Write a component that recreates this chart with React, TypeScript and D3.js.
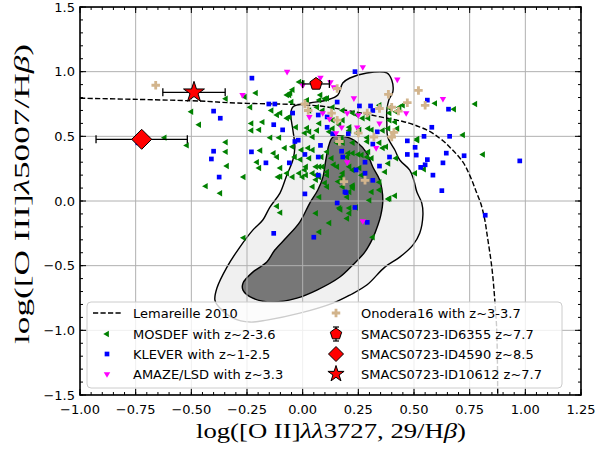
import React from 'react';
import * as d3 from 'd3';

// --- data: [log([OII]/Hb), log([OIII]/Hb)] ---
const mosdef: [number, number][] = [
  [-0.21, 0.835], [-0.345, 0.79], [-0.5, 0.69], [-0.465, 0.59], [-0.62, 0.49], [-0.52, 0.43],
  [-0.345, 0.455], [-0.345, 0.38], [-0.34, 0.27], [-0.435, 0.115], [-0.37, 0.06], [-0.265, 0.185],
  [-0.26, 0.805], [-0.235, 0.725], [-0.23, 0.6], [-0.195, 0.55], [-0.23, 0.545], [-0.19, 0.39],
  [-0.205, 0.3], [-0.195, 0.255], [-0.145, 0.49], [-0.105, 0.49], [-0.13, 0.37], [-0.1, 0.255],
  [-0.11, 0.185], [-0.07, 0.215], [-0.115, 0.34], [-0.115, -0.04], [-0.1, -0.09], [-0.06, 0.82],
  [-0.045, 0.86], [-0.14, 0.7], [-0.1, 0.68], [-0.06, 0.65], [-0.03, 0.57], [0.02, 0.565],
  [0.045, 0.495], [0.01, 0.525], [-0.045, 0.42], [-0.005, 0.395], [0.045, 0.395], [-0.01, 0.32],
  [0.03, 0.33], [0.11, 0.38], [0.09, 0.265], [0.01, 0.24], [0.045, 0.215], [0.075, 0.185],
  [0.11, 0.225], [0.155, 0.265], [0.175, 0.185], [0.21, 0.265], [0.225, 0.11], [0.2, 0.03],
  [0.165, -0.055], [0.21, -0.055], [0.075, 0.03], [0.045, 0.11], [0.11, 0.11], [0.075, 0.78],
  [0.08, 0.82], [0.11, 0.795], [0.065, 0.725], [0.03, 0.7], [0.09, 0.7], [0.135, 0.725],
  [0.18, 0.7], [0.225, 0.68], [0.18, 0.625], [0.21, 0.57], [0.245, 0.525], [0.075, 0.6],
  [0.065, 0.545], [0.12, 0.535], [0.155, 0.45], [0.18, 0.45], [0.225, 0.37], [0.2, 0.34],
  [0.775, 0.75], [0.595, 0.755], [0.68, 0.71], [0.72, 0.51], [0.81, 0.36], [0.545, 0.245],
  [0.505, 0.215], [0.415, 0.04], [0.385, 0.015], [0.515, 0.47], [0.39, 0.68], [0.42, 0.69],
  [0.435, 0.725], [0.345, 0.74], [0.425, 0.56], [0.385, 0.56], [0.39, 0.625], [0.31, 0.55],
  [0.255, 0.55], [0.295, 0.56], [0.345, 0.45], [0.375, 0.42], [0.29, 0.46], [0.265, 0.355],
  [0.29, 0.34], [0.31, 0.33], [0.295, 0.38], [0.385, 0.29], [0.37, 0.225], [0.345, 0.145],
  [0.31, 0.07], [0.345, 0.085], [0.255, 0.255], [0.225, 0.12], [0.205, 0.37], [0.175, 0.485],
  [0.085, 0.34], [0.075, 0.265], [0.06, 0.165], [0.16, 0.15], [0.18, 0.11], [0.17, -0.065],
  [0.3, 0.005], [0.21, -0.095], [0.06, -0.095], [0.02, 0.78], [0.27, 0.64], [0.135, 0.625],
  [0.165, 0.59], [0.21, 0.545], [0.135, 0.56], [0.03, 0.535], [0.015, 0.265], [0.06, 0.265],
  [0.015, 0.2], [0.06, 0.2], [0.11, 0.2], [0.18, 0.215], [0.18, 0.16], [0.225, 0.1],
  [0.21, 0.07], [0.1, 0.14], [0.225, 0.24], [0.265, 0.2], [0.39, 0.02], [0.24, -0.05],
  [0.2, -0.135], [0.12, -0.17], [0.075, -0.24], [0.315, -0.28], [-0.015, 0.215], [-0.1, 0.19],
  [-0.045, 0.185], [0.0, 0.185], [-0.265, -0.285], [-0.18, 0.61], [-0.115, 0.665], [-0.07, 0.64],
  [-0.05, 0.765], [0.0, 0.91], [-0.055, 0.835], [-0.08, 0.41], [-0.035, 0.34], [0.1, 0.79],
  [0.245, 0.665], [0.295, 0.64], [0.39, 0.72], [0.45, 0.74], [0.415, 0.61], [0.36, 0.545],
  [0.515, 0.48], [0.29, 0.49], [0.225, 0.45], [0.36, 0.41], [0.025, 0.41], [0.25, 0.36],
  [0.42, 0.33], [0.13, 0.33], [0.14, 0.28], [-0.015, 0.92], [-0.07, 0.82],
];

const klever: [number, number][] = [
  [-0.228, 0.95], [-0.152, 0.75], [-0.125, 0.75], [-0.4, 0.695], [-0.37, 0.64], [-0.13, 0.59],
  [-0.09, 0.55], [-0.74, 0.45], [-0.4, 0.385], [-0.41, 0.325], [-0.23, 0.38], [-0.165, 0.295],
  [-0.375, 0.185], [-0.06, 0.295], [-0.045, 0.68], [0.01, 0.055], [-0.035, 0.46], [-0.02, 0.47],
  [0.01, 0.36], [0.07, 0.34], [0.08, 0.43], [0.07, 0.665], [0.11, 0.65], [0.155, 0.765],
  [0.155, -0.015], [0.18, 0.34], [0.19, 0.07], [0.11, 0.57], [0.235, 1.0], [0.235, -0.05],
  [0.24, 0.24], [0.135, 0.52], [0.56, 0.78], [0.655, 0.71], [0.58, 0.57], [0.66, 0.5],
  [0.545, 0.5], [0.47, 0.465], [0.505, 0.415], [0.47, 0.36], [0.51, 0.355], [0.645, 0.37],
  [0.725, 0.35], [0.56, 0.32], [0.55, 0.28], [0.53, 0.26], [0.63, 0.295], [0.585, 0.2],
  [0.625, 0.08], [0.82, -0.11], [0.975, 0.31], [0.335, 0.535], [0.315, 0.44], [0.345, 0.27],
  [0.315, 0.7], [0.305, 0.735], [0.255, 0.735], [0.175, 0.385], [0.28, 0.3], [0.28, 0.215],
  [0.315, 0.16], [0.195, 0.065], [0.39, 0.34], [0.205, 0.52], [0.07, 0.2], [0.29, -0.165],
  [0.05, -0.28], [-0.13, -0.25],
];

const amaze: [number, number][] = [
  [-0.07, 1.0], [-0.27, 0.82], [0.0, 0.895], [0.08, 0.955], [0.125, 0.92], [0.03, 0.65],
  [0.09, 0.68], [0.12, 0.635], [0.175, 0.57], [0.2, 0.68], [0.23, 0.795], [0.2, 0.3],
  [0.27, 1.035], [0.425, 0.94], [0.63, 0.79], [0.14, 0.88], [0.25, 0.665], [0.245, 0.57],
  [0.345, 0.6], [0.15, 0.525], [0.33, 0.41], [0.465, 0.68], [0.27, -0.155],
];

const onodera: [number, number][] = [
  [-0.66, 0.895], [0.01, 0.75], [0.025, 0.7], [0.155, 0.87], [0.13, 0.68], [0.155, 0.625],
  [0.165, 0.46], [0.185, 0.15], [0.25, 0.525], [0.385, 0.825], [0.52, 0.855], [0.55, 0.74],
  [0.47, 0.76], [0.4, 0.725], [0.43, 0.695], [0.345, 0.715], [0.29, 0.68], [0.32, 0.495],
  [0.41, 0.53], [0.4, 0.495], [0.28, 0.16],
];

// SMACS0723 galaxies: x, y, xerr
const id6355 = { x: 0.06, y: 0.905, xerr: 0.06 };
const id4590 = { x: -0.723, y: 0.477, xerr: 0.205 };
const id10612 = { x: -0.488, y: 0.84, xerr: 0.14 };

// Lemareille 2010 demarcation
const lemareille: [number, number][] = [
  [-1.0, 0.795], [-0.5, 0.775], [-0.25, 0.755], [0.0, 0.745], [0.2, 0.7], [0.35, 0.65],
  [0.45, 0.615], [0.53, 0.57], [0.62, 0.48], [0.67, 0.4], [0.72, 0.3], [0.75, 0.2],
  [0.78, 0.07], [0.8, -0.02], [0.815, -0.12], [0.83, -0.28], [0.85, -0.52], [0.863, -0.77],
  [0.872, -1.02], [0.876, -1.5],
];

// SDSS density contours (outer / inner)
const outerContour: [number, number][] = [
  [-0.044, 0.727], [0.032, 0.758], [0.109, 0.781], [0.158, 0.819], [0.18, 0.912], [0.212, 0.951],
  [0.288, 0.99], [0.378, 0.99], [0.4, 0.935], [0.405, 0.843], [0.387, 0.781], [0.378, 0.703],
  [0.378, 0.603], [0.382, 0.495], [0.414, 0.394], [0.436, 0.317], [0.481, 0.239], [0.499, 0.162],
  [0.513, 0.069], [0.535, -0.016], [0.54, -0.109], [0.526, -0.248], [0.495, -0.341], [0.436, -0.434],
  [0.369, -0.511], [0.288, -0.65], [0.212, -0.727], [0.136, -0.789], [-0.013, -0.867], [-0.161, -0.921],
  [-0.237, -0.936], [-0.313, -0.905], [-0.372, -0.828], [-0.394, -0.766], [-0.385, -0.673], [-0.34, -0.511],
  [-0.282, -0.356], [-0.224, -0.225], [-0.179, -0.147], [-0.147, -0.047], [-0.102, 0.061], [-0.071, 0.201],
  [-0.044, 0.317], [-0.035, 0.417], [-0.044, 0.549], [-0.053, 0.665],
];

const innerContour: [number, number][] = [
  [0.136, 0.495], [0.198, 0.495], [0.248, 0.448], [0.288, 0.371], [0.315, 0.263], [0.346, 0.162],
  [0.36, 0.007], [0.351, -0.109], [0.338, -0.186], [0.315, -0.287], [0.279, -0.395], [0.225, -0.495],
  [0.167, -0.588], [0.064, -0.689], [-0.026, -0.751], [-0.134, -0.781], [-0.224, -0.751], [-0.268, -0.689],
  [-0.268, -0.635], [-0.224, -0.55], [-0.161, -0.472], [-0.125, -0.379], [-0.071, -0.279], [-0.013, -0.163],
  [0.032, -0.016], [0.068, 0.085], [0.091, 0.185], [0.104, 0.317], [0.118, 0.433],
];

const xTicks = [-1.0, -0.75, -0.5, -0.25, 0, 0.25, 0.5, 0.75, 1.0, 1.25];
const yTicks = [-1.5, -1.0, -0.5, 0, 0.5, 1.0, 1.5];
const legendLeft = ['Lemareille 2010', 'MOSDEF with z~2-3.6', 'KLEVER with z~1-2.5', 'AMAZE/LSD with z~3.3'];
const legendRight = ['Onodera16 with z~3-3.7', 'SMACS0723-ID6355 z~7.7', 'SMACS0723-ID4590 z~8.5', 'SMACS0723-ID10612 z~7.7'];

const W = 600, H = 449;
const L = 80, R = 581, T = 7, B = 395;

const x = d3.scaleLinear().domain([-1, 1.25]).range([L, R]);
const y = d3.scaleLinear().domain([-1.5, 1.5]).range([B, T]);

const fmtX = d3.format('.2f');
const fmtY = d3.format('.1f');

const sym = (type: d3.SymbolType, size: number) => d3.symbol().type(type).size(size)() as string;
const triPath = sym(d3.symbolTriangle, 18);
const sqPath = sym(d3.symbolSquare, 22);
const plusPath = sym(d3.symbolCross, 40);
const starPath = (r: number) => d3.symbol().type(d3.symbolStar).size((r * r) / 0.8908130915292852)() as string;
const pentPath = (r: number) =>
  d3.range(5).map(i => {
    const a = -Math.PI / 2 + (i * 2 * Math.PI) / 5;
    return (i ? 'L' : 'M') + (r * Math.cos(a)).toFixed(2) + ',' + (r * Math.sin(a)).toFixed(2);
  }).join('') + 'Z';
const diamPath = (r: number) => `M0,${-r}L${r},0L0,${r}L${-r},0Z`;

const contourLine = d3.line<[number, number]>()
  .x(d => x(d[0])).y(d => y(d[1]))
  .curve(d3.curveCatmullRomClosed.alpha(0.5));
const demLine = d3.line<[number, number]>()
  .x(d => x(d[0])).y(d => y(d[1]))
  .curve(d3.curveMonotoneY);

const ErrX = ({ d }: { d: { x: number; y: number; xerr: number } }) => {
  const x0 = x(d.x - d.xerr), x1 = x(d.x + d.xerr), yy = y(d.y);
  return (
    <g stroke="black" strokeWidth={1.3}>
      <line x1={x0} x2={x1} y1={yy} y2={yy} />
      <line x1={x0} x2={x0} y1={yy - 4} y2={yy + 4} />
      <line x1={x1} x2={x1} y1={yy - 4} y2={yy + 4} />
    </g>
  );
};

export default function App() {
  const minorX = d3.range(-1, 1.2501, 0.05);
  const minorY = d3.range(-1.5, 1.5001, 0.1);
  const font = 'DejaVu Sans, sans-serif';
  const rowY = [313, 334, 354, 374];

  return (
    <svg width={W} height={H} style={{ position: 'absolute', left: 0, top: 0, background: 'white' }}
      fontFamily={font}>
      <defs>
        <clipPath id="plot"><rect x={L} y={T} width={R - L} height={B - T} /></clipPath>
      </defs>
      <rect x={0} y={0} width={W} height={H} fill="white" />

      <g clipPath="url(#plot)">
        <path d={contourLine(outerContour) as string} fill="#f0f0f0" stroke="black" strokeWidth={1.4} />
        <path d={contourLine(innerContour) as string} fill="#777777" stroke="black" strokeWidth={1.4} />

        {xTicks.map(t => (
          <line key={'gx' + t} x1={x(t)} x2={x(t)} y1={T} y2={B} stroke="#b0b0b0" strokeWidth={1} />
        ))}
        {yTicks.map(t => (
          <line key={'gy' + t} x1={L} x2={R} y1={y(t)} y2={y(t)} stroke="#b0b0b0" strokeWidth={1} />
        ))}

        <path d={demLine(lemareille) as string} fill="none" stroke="black" strokeWidth={1.4}
          strokeDasharray="5.2,2.3" />

        {mosdef.map((d, i) => (
          <path key={'m' + i} d={triPath} fill="green"
            transform={`translate(${x(d[0])},${y(d[1])}) rotate(-90)`} />
        ))}
        {klever.map((d, i) => (
          <path key={'k' + i} d={sqPath} fill="blue" transform={`translate(${x(d[0])},${y(d[1])})`} />
        ))}
        {amaze.map((d, i) => (
          <path key={'a' + i} d={triPath} fill="magenta"
            transform={`translate(${x(d[0])},${y(d[1])}) rotate(180)`} />
        ))}
        {onodera.map((d, i) => (
          <path key={'o' + i} d={plusPath} fill="tan" transform={`translate(${x(d[0])},${y(d[1])})`} />
        ))}

        <ErrX d={id6355} />
        <ErrX d={id4590} />
        <ErrX d={id10612} />
        <path d={pentPath(6.5)} fill="red" stroke="black" strokeWidth={1}
          transform={`translate(${x(id6355.x)},${y(id6355.y)})`} />
        <path d={diamPath(10)} fill="red" stroke="black" strokeWidth={1}
          transform={`translate(${x(id4590.x)},${y(id4590.y)})`} />
        <path d={starPath(11)} fill="red" stroke="black" strokeWidth={1}
          transform={`translate(${x(id10612.x)},${y(id10612.y)})`} />
      </g>

      {/* ticks, all four sides, inward */}
      <g stroke="black" strokeWidth={1}>
        {minorX.map((t, i) => (
          <g key={'mx' + i}>
            <line x1={x(t)} x2={x(t)} y1={B} y2={B - 3} />
            <line x1={x(t)} x2={x(t)} y1={T} y2={T + 3} />
          </g>
        ))}
        {minorY.map((t, i) => (
          <g key={'my' + i}>
            <line x1={L} x2={L + 3} y1={y(t)} y2={y(t)} />
            <line x1={R} x2={R - 3} y1={y(t)} y2={y(t)} />
          </g>
        ))}
        {xTicks.map(t => (
          <g key={'tx' + t}>
            <line x1={x(t)} x2={x(t)} y1={B} y2={B - 6} />
            <line x1={x(t)} x2={x(t)} y1={T} y2={T + 6} />
          </g>
        ))}
        {yTicks.map(t => (
          <g key={'ty' + t}>
            <line x1={L} x2={L + 6} y1={y(t)} y2={y(t)} />
            <line x1={R} x2={R - 6} y1={y(t)} y2={y(t)} />
          </g>
        ))}
      </g>
      <rect x={L} y={T} width={R - L} height={B - T} fill="none" stroke="black" strokeWidth={1.6} />

      {xTicks.map(t => (
        <text key={'lx' + t} x={x(t)} y={414} fontSize={13} textAnchor="middle">{fmtX(t)}</text>
      ))}
      {yTicks.map(t => (
        <text key={'ly' + t} x={75} y={y(t) + 4.5} fontSize={13} textAnchor="end">{fmtY(t)}</text>
      ))}

      {/* legend */}
      <g>
        <rect x={87} y={302} width={475} height={86} rx={4} fill="white" fillOpacity={0.8}
          stroke="#cccccc" strokeWidth={1} />
        <line x1={93} x2={121} y1={rowY[0]} y2={rowY[0]} stroke="black" strokeWidth={1.4}
          strokeDasharray="5.2,2.3" />
        <path d={triPath} fill="green" transform={`translate(107,${rowY[1]}) rotate(-90)`} />
        <path d={sqPath} fill="blue" transform={`translate(107,${rowY[2]})`} />
        <path d={triPath} fill="magenta" transform={`translate(107,${rowY[3]}) rotate(180)`} />
        {legendLeft.map((s, i) => (
          <text key={'ll' + i} x={133} y={rowY[i] + 4.5} fontSize={13}>{s}</text>
        ))}

        <path d={plusPath} fill="tan" transform={`translate(336,${rowY[0]})`} />
        <g stroke="black" strokeWidth={1.2}>
          <line x1={336} x2={336} y1={rowY[1] - 7} y2={rowY[1] + 7} />
          <line x1={333} x2={339} y1={rowY[1] - 7} y2={rowY[1] - 7} />
          <line x1={333} x2={339} y1={rowY[1] + 7} y2={rowY[1] + 7} />
        </g>
        <path d={pentPath(6)} fill="red" stroke="black" strokeWidth={1} transform={`translate(336,${rowY[1]})`} />
        <path d={diamPath(7.5)} fill="red" stroke="black" strokeWidth={1} transform={`translate(336,${rowY[2]})`} />
        <path d={starPath(8.5)} fill="red" stroke="black" strokeWidth={1} transform={`translate(336,${rowY[3]})`} />
        {legendRight.map((s, i) => (
          <text key={'lr' + i} x={361} y={rowY[i] + 4.5} fontSize={13}>{s}</text>
        ))}
      </g>

      {/* axis labels */}
      <text x={331} y={438} fontSize={21} fontFamily="Liberation Serif, serif" textAnchor="middle"
        textLength={270} lengthAdjust="spacingAndGlyphs">
        log([O II]<tspan fontStyle="italic">λλ</tspan>3727, 29/H<tspan fontStyle="italic">β</tspan>)
      </text>
      <text transform="translate(29,194) rotate(-90)" fontSize={22} fontFamily="Liberation Serif, serif"
        textAnchor="middle" textLength={300} lengthAdjust="spacingAndGlyphs">
        log([O III]<tspan fontStyle="italic">λ</tspan>5007/H<tspan fontStyle="italic">β</tspan>)
      </text>
    </svg>
  );
}
